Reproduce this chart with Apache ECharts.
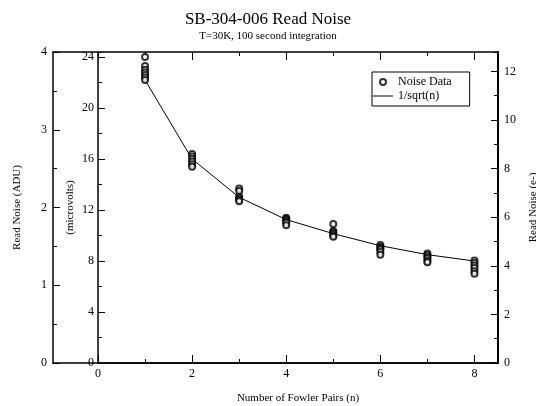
<!DOCTYPE html>
<html><head><meta charset="utf-8">
<script src="https://cdn.jsdelivr.net/npm/echarts@6/dist/echarts.min.js"></script>
<style>html,body{margin:0;padding:0;background:#fff}#c{width:536px;height:406px}</style>
</head><body><div id="c"></div><script>
// Fowler pairs (n)
const pairs = [1, 2, 3, 4, 5, 6, 7, 8];
// Measured read noise (microvolts) at each n
const noise1 = [24.0, 23.3, 23.0, 22.8, 22.6, 22.4, 22.2];
const noise2 = [16.4, 16.2, 16.0, 15.8, 15.6, 15.4];
const noise3 = [13.7, 13.5, 13.05, 12.9, 12.8, 12.7];
const noise4 = [11.4, 11.3, 11.2, 11.1, 11.0, 10.8];
const noise5 = [10.9, 10.35, 10.25, 10.15, 10.0, 9.9];
const noise6 = [9.25, 9.1, 9.0, 8.9, 8.7, 8.5];
const noise7 = [8.6, 8.45, 8.3, 8.2, 8.0, 7.9];
const noise8 = [8.05, 7.85, 7.65, 7.45, 7.2, 7.0];
// 1/sqrt(n) curve (microvolts)
const fitLine = [22.2, 16.0, 13.0, 11.25, 10.15, 9.2, 8.5, 8.0];

const noiseSets = [noise1, noise2, noise3, noise4, noise5, noise6, noise7, noise8];
const scatterData = [];
noiseSets.forEach((arr, i) => arr.forEach(v => scatterData.push([pairs[i], v])));
const lineData = pairs.map((n, i) => [n, fitLine[i]]);

const F = 'Liberation Serif';
const K = '#000';
const lbl = {color: K, fontFamily: F, fontSize: 12};
const nameStyle = {color: K, fontFamily: F, fontSize: 11};

const chart = echarts.init(document.getElementById('c'), null, {renderer: 'canvas'});
chart.setOption({
  backgroundColor: '#fff',
  animation: false,
  title: {
    text: 'SB-304-006 Read Noise',
    subtext: 'T=30K, 100 second integration',
    left: 'center', top: 6, itemGap: 3,
    textStyle: {color: K, fontFamily: F, fontSize: 17, fontWeight: 'normal'},
    subtextStyle: {color: K, fontFamily: F, fontSize: 11}
  },
  legend: {
    orient: 'vertical', left: 372, top: 72,
    borderColor: K, borderWidth: 1, borderRadius: 0,
    padding: [4, 18, 4, 1], itemGap: 2, itemWidth: 20, itemHeight: 6,
    textStyle: {color: K, fontFamily: F, fontSize: 12},
    data: [{name: 'Noise Data'}, {name: '1/sqrt(n)', icon: 'path://M0,0L20,0L20,1L0,1Z'}]
  },
  grid: [
    {left: 98, right: 38, top: 52, bottom: 43, outerBoundsMode: 'none', containLabel: false},
    {left: 53, right: 38, top: 52, bottom: 43, outerBoundsMode: 'none', containLabel: false}
  ],
  xAxis: [
    {gridIndex: 0, type: 'value', position: 'bottom', min: 0, max: 8.5, interval: 2,
     axisLine: {show: true, onZero: false, lineStyle: {color: K, width: 1.5}},
     axisTick: {show: true, inside: true, length: 8, lineStyle: {color: K}},
     axisLabel: Object.assign({showMaxLabel: false, margin: 5}, lbl),
     splitLine: {show: false},
     name: 'Number of Fowler Pairs (n)', nameLocation: 'middle', nameGap: 30, nameTextStyle: nameStyle},
    {gridIndex: 0, type: 'value', position: 'bottom', min: 0, max: 8.5, interval: 1,
     axisLine: {show: false, onZero: false}, axisTick: {show: true, inside: true, length: 4, lineStyle: {color: K}},
     axisLabel: {show: false}, splitLine: {show: false}},
    {gridIndex: 0, type: 'value', position: 'top', min: 0, max: 8.5, interval: 2,
     axisLine: {show: false, onZero: false}, axisTick: {show: true, inside: true, length: 8, lineStyle: {color: K}},
     axisLabel: {show: false}, splitLine: {show: false}},
    {gridIndex: 0, type: 'value', position: 'top', min: 0, max: 8.5, interval: 1,
     axisLine: {show: false, onZero: false}, axisTick: {show: true, inside: true, length: 4, lineStyle: {color: K}},
     axisLabel: {show: false}, splitLine: {show: false}},
    {gridIndex: 1, type: 'value', position: 'bottom', min: 0, max: 1,
     axisLine: {show: true, onZero: false, lineStyle: {color: K, width: 1.5}}, axisTick: {show: false},
     axisLabel: {show: false}, splitLine: {show: false}},
    {gridIndex: 1, type: 'value', position: 'top', min: 0, max: 1,
     axisLine: {show: true, onZero: false, lineStyle: {color: K, width: 1.5}}, axisTick: {show: false},
     axisLabel: {show: false}, splitLine: {show: false}}
  ],
  yAxis: [
    {gridIndex: 0, type: 'value', position: 'left', min: 0, max: 24.4, interval: 4,
     axisLine: {show: true, onZero: false, lineStyle: {color: K, width: 1.5}},
     axisTick: {show: true, inside: true, length: 7, lineStyle: {color: K}},
     axisLabel: Object.assign({showMaxLabel: false, margin: 4}, lbl),
     splitLine: {show: false},
     name: '(microvolts)', nameLocation: 'middle', nameGap: 22, nameRotate: 90, nameMoveOverlap: false, nameTextStyle: nameStyle},
    {gridIndex: 0, type: 'value', position: 'left', min: 0, max: 24.4, interval: 2,
     axisLine: {show: false, onZero: false}, axisTick: {show: true, inside: true, length: 4, lineStyle: {color: K}},
     axisLabel: {show: false}, splitLine: {show: false}},
    {gridIndex: 0, type: 'value', position: 'right', min: 0, max: 12.8, interval: 2,
     axisLine: {show: true, onZero: false, lineStyle: {color: K, width: 2}},
     axisTick: {show: true, inside: true, length: 7, lineStyle: {color: K}},
     axisLabel: Object.assign({showMaxLabel: false, margin: 6}, lbl),
     splitLine: {show: false},
     name: 'Read Noise (e-)', nameLocation: 'middle', nameGap: 30, nameRotate: 90, nameTextStyle: nameStyle},
    {gridIndex: 0, type: 'value', position: 'right', min: 0, max: 12.8, interval: 1,
     axisLine: {show: false, onZero: false}, axisTick: {show: true, inside: true, length: 4, lineStyle: {color: K}},
     axisLabel: {show: false}, splitLine: {show: false}},
    {gridIndex: 1, type: 'value', position: 'left', min: 0, max: 4, interval: 1,
     axisLine: {show: true, onZero: false, lineStyle: {color: K, width: 1.5}},
     axisTick: {show: true, inside: true, length: 7, lineStyle: {color: K}},
     minorTick: {show: true, splitNumber: 2, length: 4, lineStyle: {color: K}},
     axisLabel: Object.assign({margin: 6}, lbl),
     splitLine: {show: false},
     name: 'Read Noise (ADU)', nameLocation: 'middle', nameGap: 30, nameRotate: 90, nameTextStyle: nameStyle}
  ],
  series: [
    {name: 'Noise Data', type: 'scatter', xAxisIndex: 0, yAxisIndex: 0,
     symbol: 'emptyCircle', symbolSize: 6,
     itemStyle: {color: K, borderColor: K, borderWidth: 0.7},
     data: scatterData, z: 3},
    {name: '1/sqrt(n)', type: 'line', xAxisIndex: 0, yAxisIndex: 0,
     symbol: 'none', showSymbol: false,
     lineStyle: {color: K, width: 1}, itemStyle: {color: K},
     data: lineData, z: 2}
  ]
});
</script></body></html>
